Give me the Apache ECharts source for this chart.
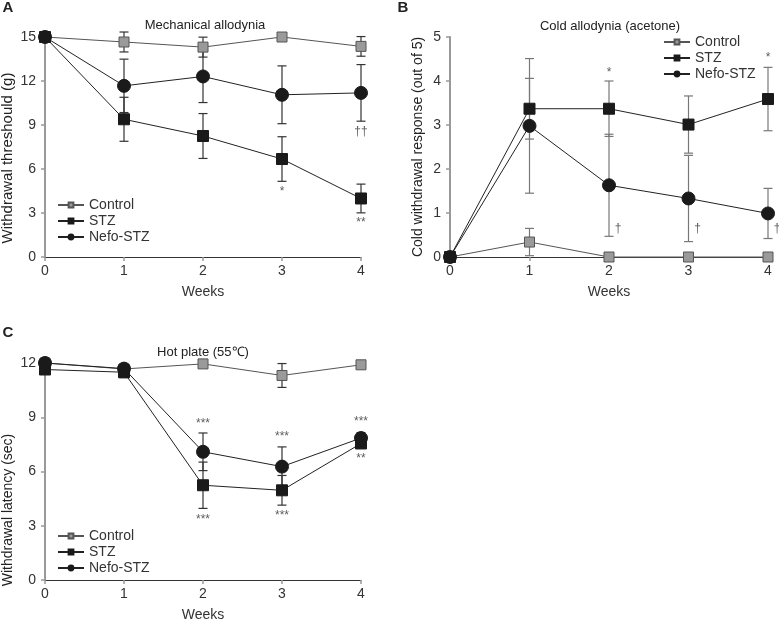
<!DOCTYPE html>
<html>
<head>
<meta charset="utf-8">
<script src="https://cdn.jsdelivr.net/npm/echarts@6/dist/echarts.min.js"></script>
<style>html,body{margin:0;padding:0;background:#fff}#c{width:779px;height:623px}</style>
</head>
<body>
<div id="c"></div>
<script>
// ---- Data ----
const weeks = [0, 1, 2, 3, 4];
const weekTicks = ['0', '1', '2', '3', '4'];
const seriesNames = ['Control', 'STZ', 'Nefo-STZ'];

// Panel A: Mechanical allodynia (withdrawal threshold, g)
const mechControl = [15.0, 14.66, 14.31, 15.0, 14.36];
const mechControlErr = [0, 0.68, 0.68, 0, 0.67];
const mechSTZ = [15.0, 9.39, 8.25, 6.68, 3.99];
const mechSTZErr = [0, 1.5, 1.53, 1.52, 0.98];
const mechNefo = [15.0, 11.67, 12.31, 11.06, 11.19];
const mechNefoErr = [0, 1.82, 1.78, 1.97, 1.93];
const mechTicks = [0, 3, 6, 9, 12, 15];
const mechNotes = [[3, 4.43, '*'], [4, 2.32, '**'], [4, 8.52, '††']];

// Panel B: Cold allodynia (acetone), responses out of 5
const coldControl = [0, 0.34, 0, 0, 0];
const coldControlErr = [0, 0.31, 0, 0, 0];
const coldSTZ = [0, 3.37, 3.37, 3.01, 3.59];
const coldSTZErr = [0, 0.69, 0.63, 0.65, 0.72];
const coldNefo = [0, 2.98, 1.63, 1.33, 0.99];
const coldNefoErr = [0, 1.53, 1.16, 0.98, 0.57];
const coldTicks = [0, 1, 2, 3, 4, 5];
const coldStarNotes = [[2, 4.2, '*'], [4, 4.52, '*']];
const coldDaggerNotes = [[2, 0.64, '†'], [3, 0.64, '†'], [4, 0.64, '†']];

// Panel C: Hot plate (55℃), withdrawal latency (sec)
const hotControl = [12.0, 11.67, 11.95, 11.31, 11.9];
const hotControlErr = [0, 0, 0, 0.66, 0];
const hotSTZ = [11.64, 11.49, 5.24, 4.96, 7.55];
const hotSTZErr = [0, 0.3, 1.28, 0.82, 0.2];
const hotNefo = [12.0, 11.69, 7.09, 6.27, 7.85];
const hotNefoErr = [0.15, 0.2, 1.04, 1.09, 0.3];
const hotTicks = [0, 3, 6, 9, 12];
const hotNotes = [[2, 8.67, '***'], [2, 3.33, '***'], [3, 7.91, '***'], [3, 3.55, '***'], [4, 8.78, '***'], [4, 6.71, '**']];

// ---- Build ----
const FONT = "'Liberation Sans', Arial, sans-serif";
const chart = echarts.init(document.getElementById('c'), null, {renderer: 'canvas'});

const styles = {
  'Control': {symbol: 'rect', size: 10, color: '#9a9a9a', border: '#555', line: '#555'},
  'STZ': {symbol: 'rect', size: 11, color: '#1a1a1a', border: '#1a1a1a', line: '#222'},
  'Nefo-STZ': {symbol: 'circle', size: 13, color: '#1a1a1a', border: '#1a1a1a', line: '#222'}
};
const errColors = ['#333', '#777', '#333'];

function pts(vals) { return weeks.map((w, i) => [w, vals[i]]); }
function errPts(vals, errs) { return weeks.map((w, i) => [w, vals[i] - errs[i], vals[i] + errs[i]]).filter((d, i) => errs[i] > 0); }

function errSeries(idx, vals, errs) {
  return {
    type: 'custom', xAxisIndex: idx, yAxisIndex: idx, z: 2, silent: true,
    data: errPts(vals, errs),
    renderItem: function (params, api) {
      const lo = api.coord([api.value(0), api.value(1)]);
      const hi = api.coord([api.value(0), api.value(2)]);
      const hw = 4.5;
      const st = {stroke: errColors[idx], lineWidth: 1.2};
      return {type: 'group', children: [
        {type: 'line', shape: {x1: lo[0], y1: lo[1], x2: hi[0], y2: hi[1]}, style: st},
        {type: 'line', shape: {x1: lo[0] - hw, y1: lo[1], x2: lo[0] + hw, y2: lo[1]}, style: st},
        {type: 'line', shape: {x1: hi[0] - hw, y1: hi[1], x2: hi[0] + hw, y2: hi[1]}, style: st}
      ]};
    }
  };
}

function lineSeries(idx, name, vals) {
  const s = styles[name];
  return {
    type: 'line', name: name, xAxisIndex: idx, yAxisIndex: idx, z: 5,
    data: pts(vals), symbol: s.symbol, symbolSize: s.size, clip: false,
    lineStyle: {color: s.line, width: 1},
    itemStyle: {color: s.color, borderColor: s.border, borderWidth: 1, opacity: 1},
    emphasis: {disabled: true}, animation: false
  };
}

function noteSeries(idx, notes, offset) {
  return {
    type: 'scatter', xAxisIndex: idx, yAxisIndex: idx, z: 6, silent: true,
    symbolSize: 0, data: notes, clip: false,
    label: {show: true, position: 'inside', offset: offset || [0, 0], formatter: p => p.data[2],
      fontSize: 12, color: '#333', fontFamily: FONT}
  };
}

const grids = [
  {left: 45, top: 37, width: 316, height: 220},
  {left: 450, top: 37, width: 318, height: 220},
  {left: 45, top: 363, width: 316, height: 220}
];

function xAxis(idx) {
  return {
    type: 'value', gridIndex: idx, min: 0, max: 4, interval: 1,
    name: 'Weeks', nameLocation: 'middle', nameGap: 28,
    nameTextStyle: {fontSize: 14, color: '#333', fontFamily: FONT},
    axisLine: {show: true, onZero: false, lineStyle: {color: '#333', width: 1}},
    axisTick: {show: true, length: 4, lineStyle: {color: '#999', width: 1.5}},
    axisLabel: {fontSize: 14, color: '#333', margin: 7, fontFamily: FONT, formatter: v => weekTicks[v]},
    splitLine: {show: false}
  };
}
function yAxis(idx, ticks) {
  return {
    type: 'value', gridIndex: idx, min: ticks[0], max: ticks[ticks.length - 1],
    interval: ticks[1] - ticks[0],
    axisLine: {show: true, onZero: false, lineStyle: {color: '#999', width: 2}},
    axisTick: {show: true, length: 4, lineStyle: {color: '#999', width: 1.5}},
    axisLabel: {fontSize: 14, color: '#333', margin: 9, fontFamily: FONT},
    splitLine: {show: false}
  };
}

function legend(pos) {
  return Object.assign({
    orient: 'vertical', data: seriesNames, itemWidth: 26, itemHeight: 6, itemGap: 2,
    padding: 0, selectedMode: false,
    textStyle: {fontSize: 14, color: '#333', fontFamily: FONT, lineHeight: 14}
  }, pos);
}

const series = [
  errSeries(0, mechControl, mechControlErr), errSeries(0, mechSTZ, mechSTZErr), errSeries(0, mechNefo, mechNefoErr),
  lineSeries(0, 'Control', mechControl), lineSeries(0, 'STZ', mechSTZ), lineSeries(0, 'Nefo-STZ', mechNefo),
  noteSeries(0, mechNotes),
  errSeries(1, coldControl, coldControlErr), errSeries(1, coldSTZ, coldSTZErr), errSeries(1, coldNefo, coldNefoErr),
  lineSeries(1, 'Control', coldControl), lineSeries(1, 'STZ', coldSTZ), lineSeries(1, 'Nefo-STZ', coldNefo),
  noteSeries(1, coldStarNotes), noteSeries(1, coldDaggerNotes, [9, 0]),
  errSeries(2, hotControl, hotControlErr), errSeries(2, hotSTZ, hotSTZErr), errSeries(2, hotNefo, hotNefoErr),
  lineSeries(2, 'Control', hotControl), lineSeries(2, 'STZ', hotSTZ), lineSeries(2, 'Nefo-STZ', hotNefo),
  noteSeries(2, hotNotes)
];

function txt(x, y, t, size, weight, rot) {
  return {type: 'text', x: x, y: y, rotation: rot || 0, style: {text: t, fontSize: size, fontWeight: weight || 'normal',
    fill: '#222', fontFamily: FONT, align: 'center', verticalAlign: 'middle'}};
}

chart.setOption({
  animation: false,
  backgroundColor: '#fff',
  grid: grids,
  xAxis: [xAxis(0), xAxis(1), xAxis(2)],
  yAxis: [yAxis(0, mechTicks), yAxis(1, coldTicks), yAxis(2, hotTicks)],
  legend: [
    legend({left: 57, top: 198}),
    legend({left: 663, top: 35}),
    legend({left: 57, top: 529})
  ],
  series: series,
  graphic: [
    txt(8, 8, 'A', 15, 'bold'),
    txt(403, 8, 'B', 15, 'bold'),
    txt(8, 333, 'C', 15, 'bold'),
    txt(205, 25, 'Mechanical allodynia', 13),
    txt(610, 26, 'Cold allodynia (acetone)', 13),
    txt(203, 352, 'Hot plate (55℃)', 13),
    txt(8, 158, 'Withdrawal threshould (g)', 15, 'normal', Math.PI / 2),
    txt(418, 147, 'Cold withdrawal response (out of 5)', 14, 'normal', Math.PI / 2),
    txt(8, 510, 'Withdrawal latency (sec)', 14, 'normal', Math.PI / 2)
  ]
});
</script>
</body>
</html>
